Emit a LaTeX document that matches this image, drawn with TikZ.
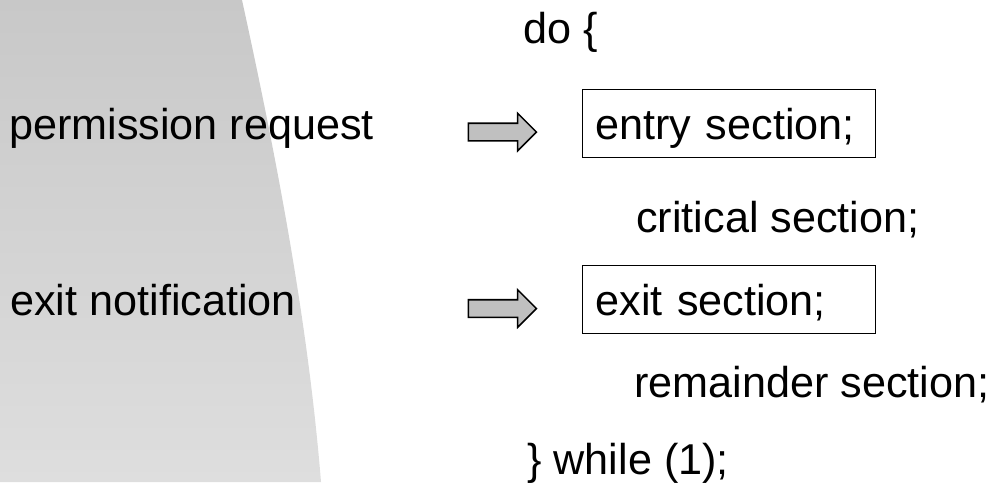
\documentclass[tikz,border=0pt]{standalone}
\usepackage{fontspec}
\setmainfont{Liberation Sans}
\usetikzlibrary{shapes.arrows}

\definecolor{shadetop}{RGB}{200,200,200}
\definecolor{shadebot}{RGB}{222,222,222}
\definecolor{arrowgray}{RGB}{192,192,192}

\tikzset{
  codetext/.style={anchor=base west, inner sep=0pt, font=\fontsize{30.7}{37}\selectfont},
  secbox/.style={codetext, draw, line width=0.7pt, inner xsep=0.325cm, text width=6.675cm,
    align=left, text height=1.2375cm, text depth=0.45cm},
  fatarrow/.style={single arrow, draw, line width=1.1pt, fill=arrowgray, minimum height=1.7cm,
    inner xsep=0pt, inner ysep=0.2cm, single arrow head extend=0.25cm}
}

\begin{document}
\begin{tikzpicture}[x=0.025cm, y=-0.025cm]
  \useasboundingbox (0,0) rectangle (1003,482);
  % shaded band on the left
  \shade[top color=shadetop, bottom color=shadebot]
    (0,0) -- (242,0) .. controls (277,160) and (308,322) .. (321,482) -- (0,482) -- cycle;

  \node[codetext] (doline) at (523,43) {do \{};
  \node[codetext] (request) at (9,139) {permission request};
  \node[secbox] (entry) at (582,139) {entry section;};
  \node[codetext] (critical) at (636,232) {critical section;};
  \node[codetext] (notify) at (10,315) {exit notification};
  \node[secbox] (exit) at (582,315) {exit section;};
  \node[codetext] (remainder) at (634,397) {remainder section;};
  \node[codetext] (whileline) at (527,474) {\} while (1);};

  \node[fatarrow] (reqarrow) at (498,132) {};
  \node[fatarrow] (exitarrow) at (498,308.5) {};
\end{tikzpicture}
\end{document}
